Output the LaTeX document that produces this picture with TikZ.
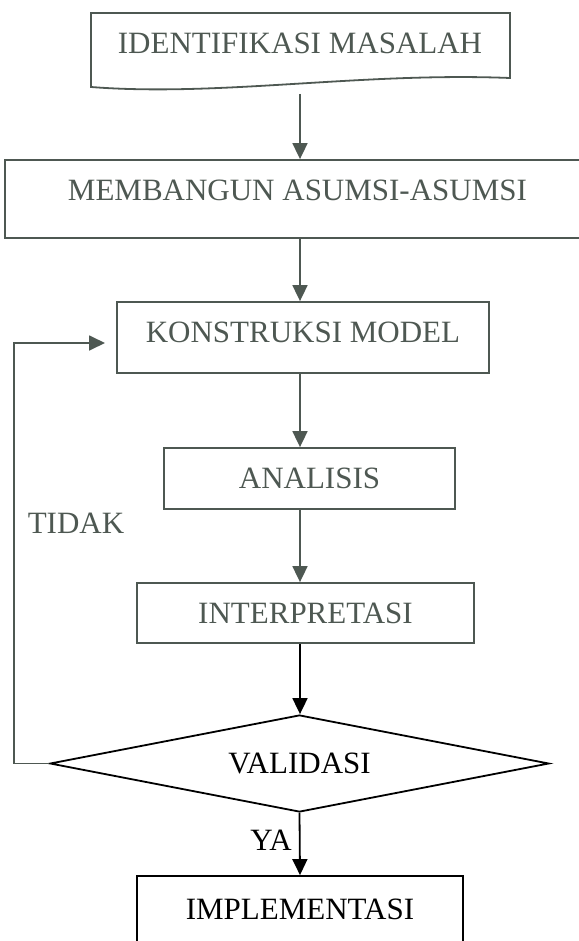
\documentclass[tikz,border=0pt]{standalone}
\usepackage{fontspec}
\setmainfont{Liberation Serif}
\usetikzlibrary{positioning,shapes.geometric,arrows.meta}
\definecolor{ink}{RGB}{78,88,82}
\newcommand{\bigtxt}{\fontsize{31}{36}\selectfont}

\begin{document}
\begin{tikzpicture}[x=1pt,y=-1pt,
    box/.style={draw=ink,text=ink,line width=1.8pt,inner sep=0pt,font=\bigtxt},
    arr/.style={draw=ink,line width=1.8pt,-{Triangle[width=15pt,length=16pt]}}]
\useasboundingbox (0,0) rectangle (578,941);
\coordinate (spine) at (300,0);

% document shape on top
\node[text=ink,font=\bigtxt] (idm) at (300,43) {IDENTIFIKASI MASALAH};
\draw[draw=ink,line width=1.8pt] (91,87) -- (91,13) -- (510,13) -- (510,78)
    .. controls (360,72) and (220,97) .. (91,87) -- cycle;
\coordinate (idmfoot) at (300,94);

% process boxes
\node[box,minimum width=585pt,minimum height=78pt,text depth=17pt] (asm) at (297.5,199) {MEMBANGUN ASUMSI-ASUMSI};
\node[box,minimum width=372pt,minimum height=71pt,text depth=10pt] (kons) at (303,337.5) {KONSTRUKSI MODEL};
\node[box,minimum width=291pt,minimum height=61pt] (ana) at (309.5,478.5) {ANALISIS};
\node[box,minimum width=337pt,minimum height=60pt] (intp) at (305.5,613) {INTERPRETASI};
\node[diamond,aspect=5.14,draw,line width=1.8pt,inner sep=0pt,minimum width=499pt,minimum height=97pt,font=\bigtxt] (val) at (299.5,763.5) {VALIDASI};
\node[box,draw=black,text=black,minimum width=326pt,minimum height=66pt] (impl) at (300,909) {IMPLEMENTASI};

% labels
\node[text=ink,font=\bigtxt] (tidak) at (76,523) {TIDAK};
\node[font=\bigtxt] (ya) at (271,840) {YA};

% arrows
\draw[arr] (idmfoot) -- (asm.north -| spine);
\draw[arr] (asm.south -| spine) -- (kons.north -| spine);
\draw[arr] (kons.south -| spine) -- (ana.north -| spine);
\draw[arr] (ana.south -| spine) -- (intp.north -| spine);
\draw[arr,draw=black] (intp.south -| spine) -- (val.north -| spine);
\draw[arr,draw=black] (val.south) -- (impl.north);
\coordinate (back) at (105,343);
\draw[arr] (val.west) -- ++(-35,0) |- (back);
\end{tikzpicture}
\end{document}
